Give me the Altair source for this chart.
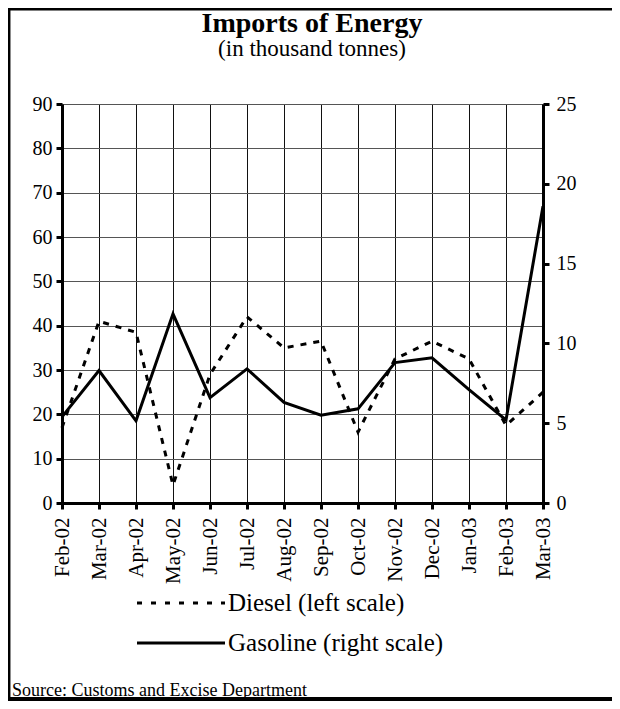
import altair as alt
import pandas as pd

months = ["Feb-02", "Mar-02", "Apr-02", "May-02", "Jun-02", "Jul-02", "Aug-02",
          "Sep-02", "Oct-02", "Nov-02", "Dec-02", "Jan-03", "Feb-03", "Mar-03"]
diesel = [17, 41, 38.5, 4, 29, 42, 35, 36.5, 16, 32.5, 36.5, 32.5, 17.5, 25]
gasoline = [5.4, 8.3, 5.15, 11.85, 6.6, 8.4, 6.3, 5.5, 5.9, 8.8, 9.1, 7.1, 5.2, 18.6]
left_ticks = [0, 10, 20, 30, 40, 50, 60, 70, 80, 90]
right_ticks = [0, 5, 10, 15, 20, 25]

title_text = "Imports of Energy"
subtitle_text = "(in thousand tonnes)"
legend_diesel = "Diesel (left scale)"
legend_gasoline = "Gasoline (right scale)"
source_text = "Source: Customs and Excise Department"

FONT = "Liberation Serif"
W, H = 481, 399

df = pd.DataFrame({"month": months, "diesel": diesel, "gasoline": gasoline})

xenc = alt.X("month:O", sort=months,
             scale=alt.Scale(type="point", padding=0),
             axis=alt.Axis(title=None, labelAngle=270, labelFont=FONT, labelFontSize=21,
                           labelColor="black", labelPadding=8, labelBaseline="middle",
                           labelAlign="right",
                           grid=True, gridColor="#111", gridWidth=1,
                           domainColor="black", domainWidth=3,
                           tickColor="black", tickWidth=3, tickSize=6))

base = alt.Chart(df)

diesel_line = base.mark_line(color="black", strokeWidth=3, strokeDash=[6, 7]).encode(
    x=xenc,
    y=alt.Y("diesel:Q", scale=alt.Scale(domain=[0, 90], nice=False),
            axis=alt.Axis(orient="left", title=None, values=left_ticks,
                          labelFont=FONT, labelFontSize=20, labelColor="black",
                          labelPadding=4, grid=True, gridColor="#555", gridWidth=1,
                          domainColor="black", domainWidth=3,
                          tickColor="black", tickWidth=3, tickSize=6)),
)

gasoline_line = base.mark_line(color="black", strokeWidth=3).encode(
    x=xenc,
    y=alt.Y("gasoline:Q", scale=alt.Scale(domain=[0, 25], nice=False),
            axis=alt.Axis(orient="right", title=None, values=right_ticks,
                          labelFont=FONT, labelFontSize=20, labelColor="black",
                          labelPadding=7, grid=False,
                          domainColor="black", domainWidth=3,
                          tickColor="black", tickWidth=3, tickSize=6)),
)

one = pd.DataFrame({"a": [0]})


def label(text, x, y, size, weight="normal", align="left"):
    return alt.Chart(pd.DataFrame({"t": [text]})).mark_text(
        font=FONT, fontSize=size, fontWeight=weight, align=align,
        baseline="alphabetic", color="black"
    ).encode(text="t:N", x=alt.value(x), y=alt.value(y))


title = label(title_text, 250, -72, 28, "bold", "center")
subtitle = label(subtitle_text, 250, -48, 23, "normal", "center")
leg_d_text = label(legend_diesel, 166, 507, 25)
leg_g_text = label(legend_gasoline, 166, 547, 25)
source = label(source_text, -50, 592, 18)

leg_d_line = alt.Chart(one).mark_rule(color="black", strokeWidth=3, strokeDash=[5, 9]).encode(
    x=alt.value(75), x2=alt.value(163), y=alt.value(499))
leg_g_line = alt.Chart(one).mark_rule(color="black", strokeWidth=3).encode(
    x=alt.value(75), x2=alt.value(163), y=alt.value(539))

# frame of the figure
frame_left = alt.Chart(one).mark_rule(color="black", strokeWidth=2.5).encode(
    x=alt.value(-52.8), y=alt.value(-96), y2=alt.value(597))
frame_top = alt.Chart(one).mark_rule(color="black", strokeWidth=2.5).encode(
    x=alt.value(-54), x2=alt.value(550), y=alt.value(-94.8))
frame_bottom = alt.Chart(one).mark_rule(color="black", strokeWidth=4).encode(
    x=alt.value(-54), x2=alt.value(550), y=alt.value(595))

chart = alt.layer(
    diesel_line, gasoline_line,
    title, subtitle, leg_d_line, leg_g_line, leg_d_text, leg_g_text, source,
    frame_left, frame_top, frame_bottom,
).resolve_scale(y="independent").properties(
    width=W, height=H,
    padding={"left": 54, "top": 96, "right": 69, "bottom": 198},
    autosize=alt.AutoSizeParams(type="none"),
).configure_view(strokeWidth=0).configure(background="white")

chart.save("out.html", embed_options={"renderer": "svg", "actions": False})
